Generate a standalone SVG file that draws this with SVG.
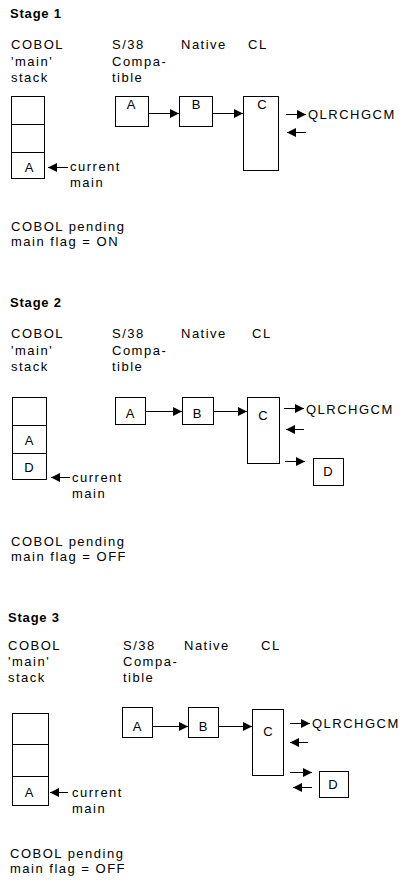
<svg xmlns="http://www.w3.org/2000/svg" width="410" height="886" viewBox="0 0 410 886">
<defs>
<style>
text{font-family:"Liberation Sans",Arial,sans-serif;font-size:13px;letter-spacing:1.5px;fill:#000}
.t{font-weight:bold;font-size:13px;letter-spacing:0.8px}
.c{text-anchor:middle;letter-spacing:0}
rect,line.d{fill:#fff;stroke:#000;stroke-width:1}
.a line{stroke:#000;stroke-width:1;marker-end:url(#ah)}
</style>
<marker id="ah" markerUnits="userSpaceOnUse" markerWidth="10" markerHeight="9" refX="9" refY="4.5" orient="auto">
<path d="M0,0 L9,4.5 L0,9 z" fill="#000"/>
</marker>
</defs>
<rect x="0" y="0" width="410" height="886" style="stroke:none;fill:#fff"/>

<!-- Stage 1 -->
<g id="stage1">
<text class="t" x="10" y="18">Stage 1</text>
<text x="11" y="49">COBOL</text><text x="11" y="65.5">'main'</text><text x="11" y="82">stack</text>
<text x="112" y="49">S/38</text><text x="112" y="65.5">Compa-</text><text x="112" y="82">tible</text>
<text x="181" y="49">Native</text>
<text x="248" y="49">CL</text>
<g id="s1-stack"><rect x="11.5" y="96.5" width="33" height="82"/><line class="d" x1="11.5" y1="124.5" x2="44.5" y2="124.5"/><line class="d" x1="11.5" y1="152.5" x2="44.5" y2="152.5"/><text class="c" x="29" y="172">A</text></g>
<g id="s1-A"><rect x="115.5" y="96.5" width="33" height="30"/><text class="c" x="131" y="109">A</text></g>
<g id="s1-B"><rect x="179.5" y="96.5" width="33" height="30"/><text class="c" x="196" y="109">B</text></g>
<g id="s1-C"><rect x="243.5" y="96.5" width="35" height="74"/><text class="c" x="262" y="109">C</text></g>
<text x="308" y="119">QLRCHGCM</text>
<text x="70" y="171">current</text><text x="70" y="187">main</text>
<text x="11" y="231">COBOL pending</text><text x="11" y="246">main flag = ON</text>
</g>
<g id="s1-connectors" class="a">
<line x1="148.5" y1="113.5" x2="179" y2="113.5"/>
<line x1="212.5" y1="113.5" x2="243" y2="113.5"/>
<line x1="286" y1="114.5" x2="306" y2="114.5"/>
<line x1="306" y1="132.5" x2="287" y2="132.5"/>
<line x1="68" y1="167.5" x2="48" y2="167.5"/>
</g>

<!-- Stage 2 -->
<g id="stage2">
<text class="t" x="10" y="307">Stage 2</text>
<text x="11" y="338">COBOL</text><text x="11" y="355">'main'</text><text x="11" y="371">stack</text>
<text x="112" y="338">S/38</text><text x="112" y="355">Compa-</text><text x="112" y="371">tible</text>
<text x="181" y="338">Native</text>
<text x="252" y="338">CL</text>
<g id="s2-stack"><rect x="12.5" y="397.5" width="34" height="82"/><line class="d" x1="12.5" y1="425.5" x2="46.5" y2="425.5"/><line class="d" x1="12.5" y1="453.5" x2="46.5" y2="453.5"/><text class="c" x="29" y="445">A</text><text class="c" x="29" y="472">D</text></g>
<g id="s2-A"><rect x="115.5" y="397.5" width="30" height="27"/><text class="c" x="130" y="418">A</text></g>
<g id="s2-B"><rect x="182.5" y="397.5" width="31" height="27"/><text class="c" x="197" y="418">B</text></g>
<g id="s2-C"><rect x="247.5" y="397.5" width="32" height="66"/><text class="c" x="263" y="420">C</text></g>
<g id="s2-D"><rect x="313.5" y="458.5" width="30" height="27"/><text class="c" x="328" y="476">D</text></g>
<text x="306" y="414">QLRCHGCM</text>
<text x="72" y="482">current</text><text x="72" y="498">main</text>
<text x="11" y="546">COBOL pending</text><text x="11" y="561">main flag = OFF</text>
</g>
<g id="s2-connectors" class="a">
<line x1="145.5" y1="411.5" x2="182" y2="411.5"/>
<line x1="213.5" y1="411.5" x2="247" y2="411.5"/>
<line x1="284" y1="408.5" x2="304" y2="408.5"/>
<line x1="304" y1="429.5" x2="286" y2="429.5"/>
<line x1="285" y1="461.5" x2="305" y2="461.5"/>
<line x1="70" y1="477.5" x2="51" y2="477.5"/>
</g>

<!-- Stage 3 -->
<g id="stage3">
<text class="t" x="8" y="622">Stage 3</text>
<text x="8" y="650">COBOL</text><text x="8" y="666">'main'</text><text x="8" y="682">stack</text>
<text x="123" y="650">S/38</text><text x="123" y="666">Compa-</text><text x="123" y="682">tible</text>
<text x="184" y="650">Native</text>
<text x="261" y="650">CL</text>
<g id="s3-stack"><rect x="12.5" y="713.5" width="36" height="92"/><line class="d" x1="12.5" y1="744.5" x2="48.5" y2="744.5"/><line class="d" x1="12.5" y1="776.5" x2="48.5" y2="776.5"/><text class="c" x="29" y="797">A</text></g>
<g id="s3-A"><rect x="122.5" y="707.5" width="30" height="30"/><text class="c" x="137" y="731">A</text></g>
<g id="s3-B"><rect x="188.5" y="707.5" width="30" height="30"/><text class="c" x="203" y="731">B</text></g>
<g id="s3-C"><rect x="252.5" y="709.5" width="31" height="66"/><text class="c" x="268" y="736">C</text></g>
<g id="s3-D"><rect x="319.5" y="771.5" width="29" height="26"/><text class="c" x="333" y="789">D</text></g>
<text x="312" y="728">QLRCHGCM</text>
<text x="72" y="797">current</text><text x="72" y="813">main</text>
<text x="10" y="858">COBOL pending</text><text x="10" y="873">main flag = OFF</text>
</g>
<g id="s3-connectors" class="a">
<line x1="152.5" y1="726.5" x2="188" y2="726.5"/>
<line x1="218.5" y1="726.5" x2="252" y2="726.5"/>
<line x1="290" y1="723.5" x2="310" y2="723.5"/>
<line x1="308" y1="742.5" x2="290" y2="742.5"/>
<line x1="290" y1="772.5" x2="312" y2="772.5"/>
<line x1="312" y1="787.5" x2="293" y2="787.5"/>
<line x1="68" y1="792.5" x2="50" y2="792.5"/>
</g>
</svg>
